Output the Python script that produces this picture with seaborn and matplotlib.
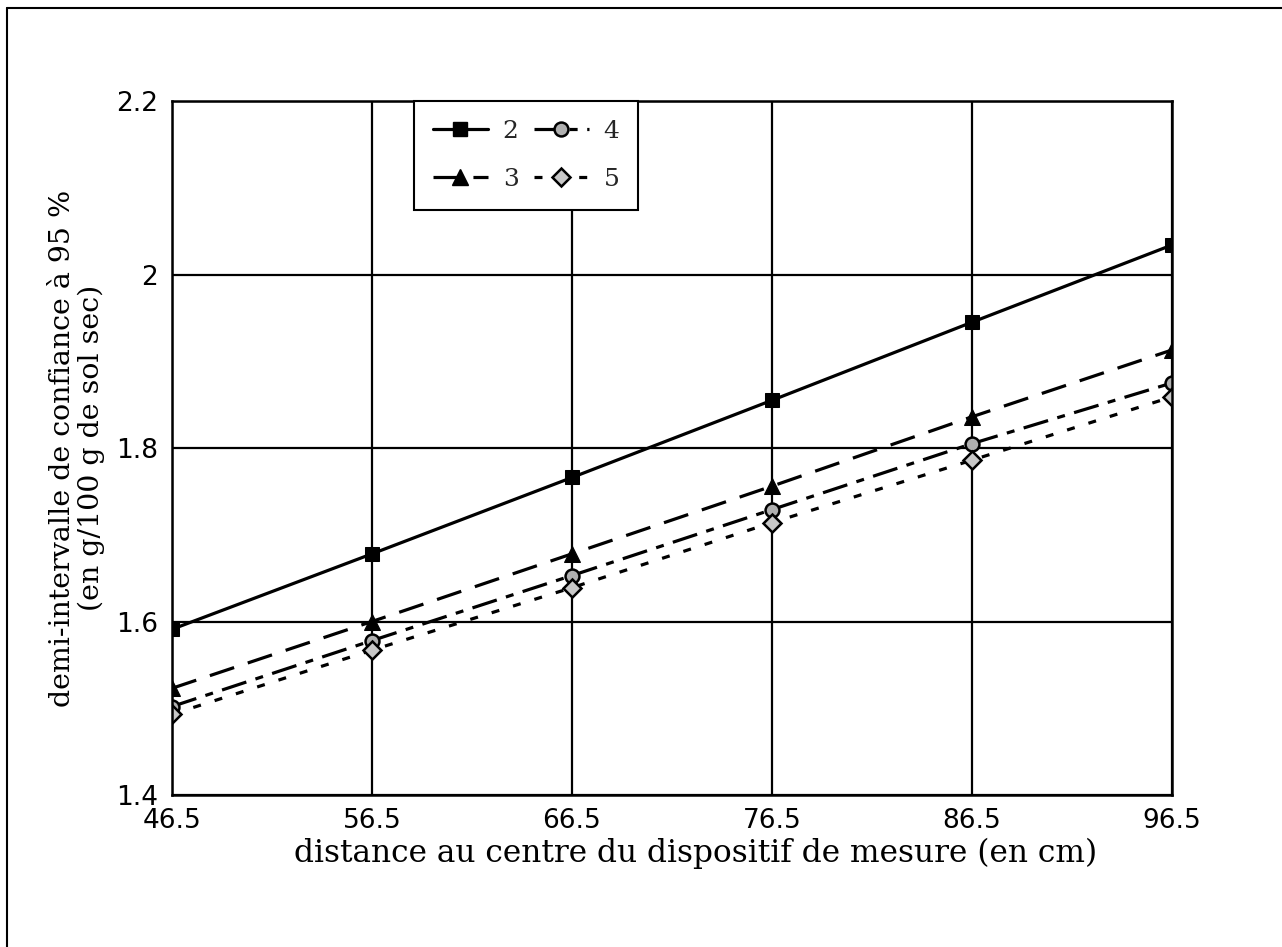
import matplotlib
matplotlib.use("Agg")
import matplotlib.pyplot as plt
from matplotlib.lines import Line2D
import seaborn as sns
import pandas as pd

# distances (cm) and half-width of the 95 % confidence interval per series
distance = [46.5, 56.5, 66.5, 76.5, 86.5, 96.5]
serie_2 = [1.591, 1.678, 1.766, 1.855, 1.945, 2.034]
serie_3 = [1.523, 1.600, 1.678, 1.756, 1.836, 1.913]
serie_4 = [1.502, 1.578, 1.653, 1.729, 1.805, 1.875]
serie_5 = [1.493, 1.567, 1.639, 1.714, 1.786, 1.859]
series_labels = ["2", "3", "4", "5"]

x_ticks = [46.5, 56.5, 66.5, 76.5, 86.5, 96.5]
x_tick_labels = ["46.5", "56.5", "66.5", "76.5", "86.5", "96.5"]
y_ticks = [1.4, 1.6, 1.8, 2.0, 2.2]
y_tick_labels = ["1.4", "1.6", "1.8", "2", "2.2"]

sns.set_theme(style="white")
plt.rcParams["font.family"] = ["DejaVu Sans"]

fig = plt.figure(figsize=(12.82, 9.47), dpi=100)
ax = fig.add_axes([172 / 1282, 1 - 795 / 947, 1000 / 1282, (795 - 101) / 947])

styles = {
    "2": dict(linestyle="-", marker="s", markersize=10, mfc="black", mec="black"),
    "3": dict(linestyle=(0, (8, 4.5)), marker="^", markersize=11.5, mfc="black", mec="black"),
    "4": dict(linestyle=(0, (8, 3, 2.5, 3)), marker="o", markersize=10, mfc="#b0b0b0", mec="black", mew=1.8),
    "5": dict(linestyle=(0, (2.5, 4.5)), marker="D", markersize=9, mfc="#c8c8c8", mec="black", mew=1.8),
}

data = {"2": serie_2, "3": serie_3, "4": serie_4, "5": serie_5}
handles = []
for lab in series_labels:
    df = pd.DataFrame({"distance": distance, "valeur": data[lab]})
    st = styles[lab]
    sns.lineplot(data=df, x="distance", y="valeur", ax=ax, color="black",
                 linewidth=2.3, legend=False, **st)
    handles.append(Line2D([], [], color="black", linewidth=2.3, label=lab, **st))

ax.set_xlim(46.5, 96.5)
ax.set_ylim(1.4, 2.2)
ax.set_xticks(x_ticks)
ax.set_xticklabels(x_tick_labels)
ax.set_yticks(y_ticks)
ax.set_yticklabels(y_tick_labels)
ax.grid(True, color="black", linewidth=1.6)
ax.set_axisbelow(True)
for sp in ax.spines.values():
    sp.set_color("black")
    sp.set_linewidth(1.8)
ax.tick_params(axis="y", direction="out", length=8, width=1.6, labelsize=19, pad=2, colors="black")
ax.tick_params(axis="x", direction="in", length=0, labelsize=19, pad=9, colors="black")
ax.set_xlabel("")
ax.set_ylabel("")

leg = ax.legend(handles=handles, ncol=2, loc="upper left",
                bbox_to_anchor=(0.242, 1.0), borderaxespad=0,
                frameon=True, fancybox=False, framealpha=1,
                edgecolor="black", handlelength=2.2, handletextpad=0.6,
                columnspacing=0.6, labelspacing=1.0, borderpad=0.75,
                prop={"family": "DejaVu Serif", "size": 18})
leg.get_frame().set_linewidth(1.5)

fig.text(77 / 1282, 1 - 448 / 947,
         "demi-intervalle de confiance à 95 %\n(en g/100 g de sol sec)",
         rotation=90, ha="center", va="center", multialignment="center",
         family="DejaVu Serif", fontsize=20.5, color="black", linespacing=1.05)
fig.text(696 / 1282, 1 - 853 / 947,
         "distance au centre du dispositif de mesure (en cm)",
         ha="center", va="center", family="DejaVu Serif", fontsize=22.5, color="black")

# outer frame (top and left edges)
fig.add_artist(Line2D([7 / 1282, 1.0], [1 - 8 / 947, 1 - 8 / 947],
                      transform=fig.transFigure, color="black", linewidth=1.5))
fig.add_artist(Line2D([7 / 1282, 7 / 1282], [0.0, 1 - 8 / 947],
                      transform=fig.transFigure, color="black", linewidth=1.5))

fig.savefig("out.png", dpi=100)
